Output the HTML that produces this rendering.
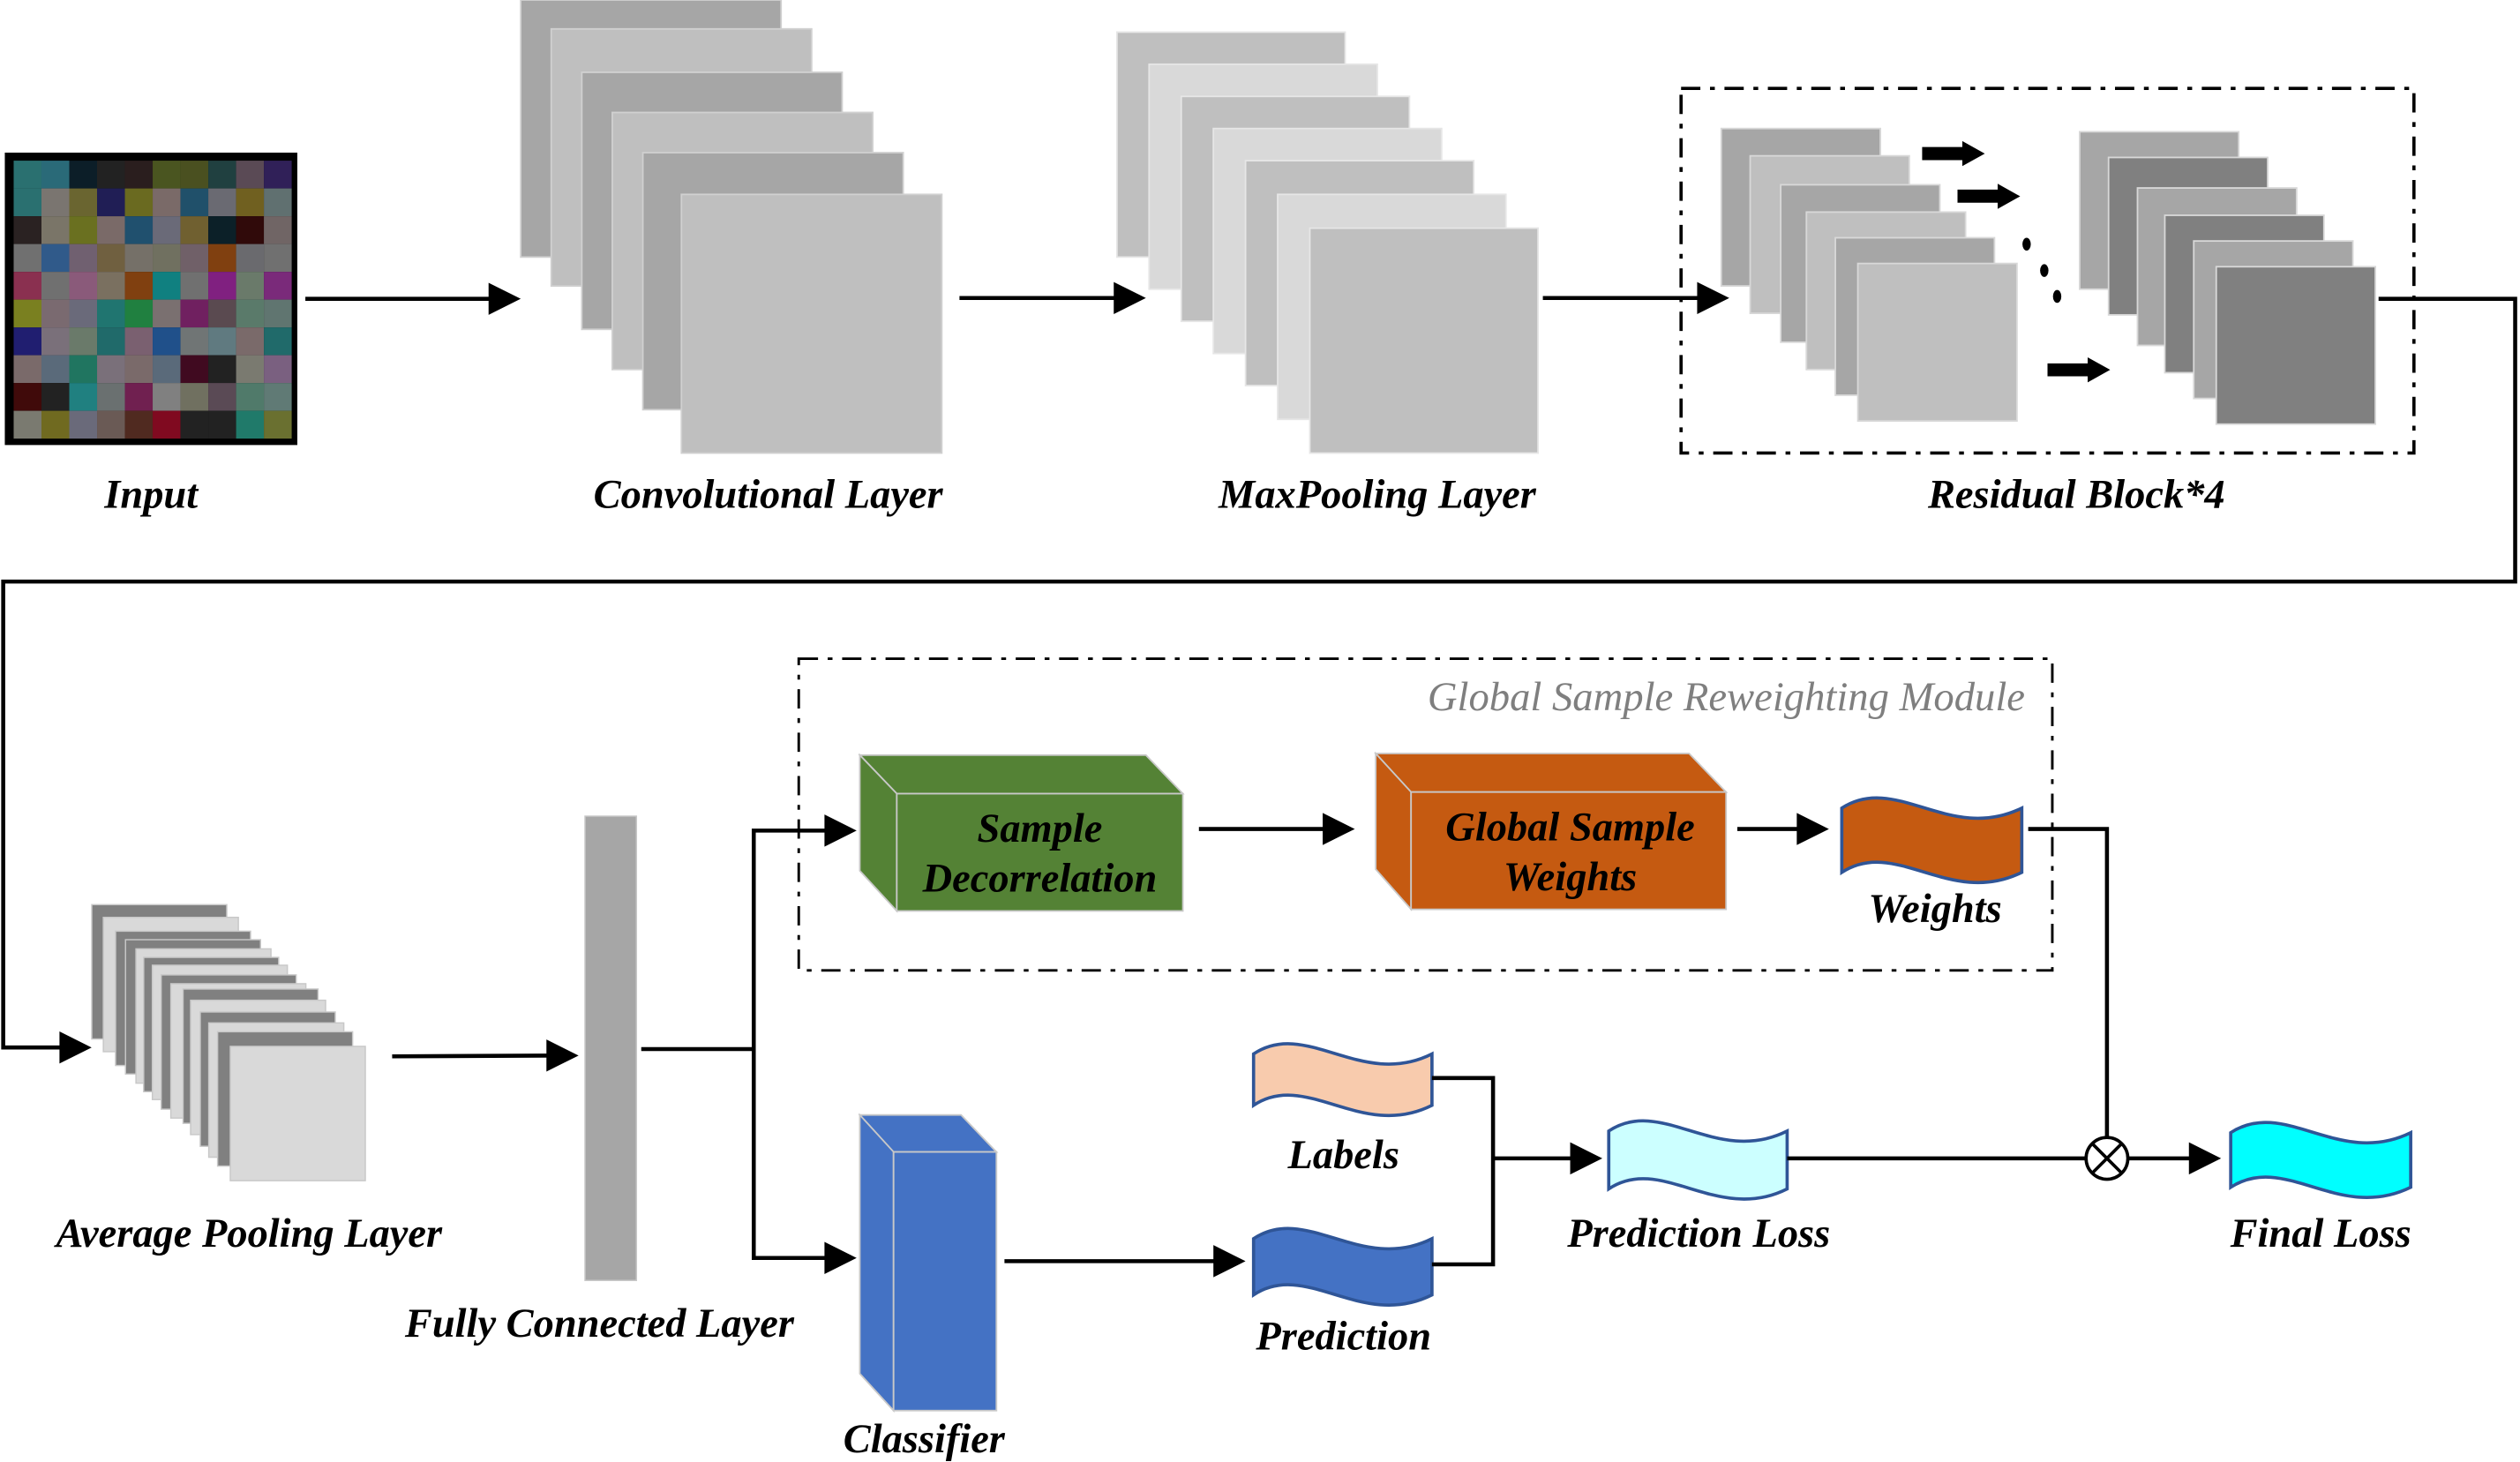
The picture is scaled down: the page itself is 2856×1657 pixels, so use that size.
<!DOCTYPE html>
<html><head><meta charset="utf-8"><style>
html,body{margin:0;padding:0;background:#fff;}
svg{display:block;}
text{font-family:"Liberation Serif",serif;font-weight:bold;font-style:italic;}
</style></head><body>
<svg width="2856" height="1657" viewBox="0 0 1568 910" preserveAspectRatio="none" xmlns="http://www.w3.org/2000/svg">
<rect x="3" y="95" width="182" height="182" fill="#000"/>
<g transform="translate(8.5,100)">
<g>
<rect x="0" y="0" width="17.3" height="17.3" fill="#2a7070"/><rect x="17.3" y="0" width="17.3" height="17.3" fill="#2a6a78"/><rect x="34.6" y="0" width="17.3" height="17.3" fill="#0c1e28"/><rect x="51.9" y="0" width="17.3" height="17.3" fill="#222"/><rect x="69.2" y="0" width="17.3" height="17.3" fill="#2a1e1e"/><rect x="86.5" y="0" width="17.3" height="17.3" fill="#4a5520"/><rect x="103.8" y="0" width="17.3" height="17.3" fill="#4a5020"/><rect x="121.1" y="0" width="17.3" height="17.3" fill="#204040"/><rect x="138.4" y="0" width="17.3" height="17.3" fill="#5a4a55"/><rect x="155.7" y="0" width="17.3" height="17.3" fill="#302058"/>
</g>
<g transform="translate(0,17.3)">
<rect x="0" y="0" width="17.3" height="17.3" fill="#2a7070"/><rect x="17.3" y="0" width="17.3" height="17.3" fill="#7a7570"/><rect x="34.6" y="0" width="17.3" height="17.3" fill="#6a6530"/><rect x="51.9" y="0" width="17.3" height="17.3" fill="#201e55"/><rect x="69.2" y="0" width="17.3" height="17.3" fill="#6a6a20"/><rect x="86.5" y="0" width="17.3" height="17.3" fill="#7a6a68"/><rect x="103.8" y="0" width="17.3" height="17.3" fill="#20506a"/><rect x="121.1" y="0" width="17.3" height="17.3" fill="#6a6a72"/><rect x="138.4" y="0" width="17.3" height="17.3" fill="#706020"/><rect x="155.7" y="0" width="17.3" height="17.3" fill="#607070"/>
</g>
<g transform="translate(0,34.6)">
<rect x="0" y="0" width="17.3" height="17.3" fill="#2a2222"/><rect x="17.3" y="0" width="17.3" height="17.3" fill="#7a7568"/><rect x="34.6" y="0" width="17.3" height="17.3" fill="#6a7020"/><rect x="51.9" y="0" width="17.3" height="17.3" fill="#7a6a68"/><rect x="69.2" y="0" width="17.3" height="17.3" fill="#20506e"/><rect x="86.5" y="0" width="17.3" height="17.3" fill="#6a6a78"/><rect x="103.8" y="0" width="17.3" height="17.3" fill="#706030"/><rect x="121.1" y="0" width="17.3" height="17.3" fill="#0c2028"/><rect x="138.4" y="0" width="17.3" height="17.3" fill="#300a0a"/><rect x="155.7" y="0" width="17.3" height="17.3" fill="#706565"/>
</g>
<g transform="translate(0,51.9)">
<rect x="0" y="0" width="17.3" height="17.3" fill="#707070"/><rect x="17.3" y="0" width="17.3" height="17.3" fill="#305a8a"/><rect x="34.6" y="0" width="17.3" height="17.3" fill="#706070"/><rect x="51.9" y="0" width="17.3" height="17.3" fill="#706040"/><rect x="69.2" y="0" width="17.3" height="17.3" fill="#757068"/><rect x="86.5" y="0" width="17.3" height="17.3" fill="#707060"/><rect x="103.8" y="0" width="17.3" height="17.3" fill="#706068"/><rect x="121.1" y="0" width="17.3" height="17.3" fill="#804010"/><rect x="138.4" y="0" width="17.3" height="17.3" fill="#6a6a6e"/><rect x="155.7" y="0" width="17.3" height="17.3" fill="#707070"/>
</g>
<g transform="translate(0,69.2)">
<rect x="0" y="0" width="17.3" height="17.3" fill="#8a3050"/><rect x="17.3" y="0" width="17.3" height="17.3" fill="#707070"/><rect x="34.6" y="0" width="17.3" height="17.3" fill="#8a5a7a"/><rect x="51.9" y="0" width="17.3" height="17.3" fill="#7a7060"/><rect x="69.2" y="0" width="17.3" height="17.3" fill="#804010"/><rect x="86.5" y="0" width="17.3" height="17.3" fill="#108080"/><rect x="103.8" y="0" width="17.3" height="17.3" fill="#707070"/><rect x="121.1" y="0" width="17.3" height="17.3" fill="#802080"/><rect x="138.4" y="0" width="17.3" height="17.3" fill="#6a7a6a"/><rect x="155.7" y="0" width="17.3" height="17.3" fill="#7a2a7a"/>
</g>
<g transform="translate(0,86.5)">
<rect x="0" y="0" width="17.3" height="17.3" fill="#7a8020"/><rect x="17.3" y="0" width="17.3" height="17.3" fill="#7a6a70"/><rect x="34.6" y="0" width="17.3" height="17.3" fill="#6a6a7a"/><rect x="51.9" y="0" width="17.3" height="17.3" fill="#207570"/><rect x="69.2" y="0" width="17.3" height="17.3" fill="#208040"/><rect x="86.5" y="0" width="17.3" height="17.3" fill="#7a7070"/><rect x="103.8" y="0" width="17.3" height="17.3" fill="#702060"/><rect x="121.1" y="0" width="17.3" height="17.3" fill="#5a4a50"/><rect x="138.4" y="0" width="17.3" height="17.3" fill="#5a7a6a"/><rect x="155.7" y="0" width="17.3" height="17.3" fill="#607570"/>
</g>
<g transform="translate(0,103.8)">
<rect x="0" y="0" width="17.3" height="17.3" fill="#201e70"/><rect x="17.3" y="0" width="17.3" height="17.3" fill="#7a707a"/><rect x="34.6" y="0" width="17.3" height="17.3" fill="#6a7a6a"/><rect x="51.9" y="0" width="17.3" height="17.3" fill="#206a6a"/><rect x="69.2" y="0" width="17.3" height="17.3" fill="#7a6070"/><rect x="86.5" y="0" width="17.3" height="17.3" fill="#20508a"/><rect x="103.8" y="0" width="17.3" height="17.3" fill="#707575"/><rect x="121.1" y="0" width="17.3" height="17.3" fill="#607a80"/><rect x="138.4" y="0" width="17.3" height="17.3" fill="#7a6a6a"/><rect x="155.7" y="0" width="17.3" height="17.3" fill="#206a6a"/>
</g>
<g transform="translate(0,121.1)">
<rect x="0" y="0" width="17.3" height="17.3" fill="#7a6a6a"/><rect x="17.3" y="0" width="17.3" height="17.3" fill="#5a6a7a"/><rect x="34.6" y="0" width="17.3" height="17.3" fill="#207560"/><rect x="51.9" y="0" width="17.3" height="17.3" fill="#7a707a"/><rect x="69.2" y="0" width="17.3" height="17.3" fill="#7a6a6a"/><rect x="86.5" y="0" width="17.3" height="17.3" fill="#5a6a7a"/><rect x="103.8" y="0" width="17.3" height="17.3" fill="#400a20"/><rect x="121.1" y="0" width="17.3" height="17.3" fill="#222"/><rect x="138.4" y="0" width="17.3" height="17.3" fill="#7a7a70"/><rect x="155.7" y="0" width="17.3" height="17.3" fill="#7a6080"/>
</g>
<g transform="translate(0,138.4)">
<rect x="0" y="0" width="17.3" height="17.3" fill="#400a0a"/><rect x="17.3" y="0" width="17.3" height="17.3" fill="#222"/><rect x="34.6" y="0" width="17.3" height="17.3" fill="#208080"/><rect x="51.9" y="0" width="17.3" height="17.3" fill="#6a7070"/><rect x="69.2" y="0" width="17.3" height="17.3" fill="#702050"/><rect x="86.5" y="0" width="17.3" height="17.3" fill="#808080"/><rect x="103.8" y="0" width="17.3" height="17.3" fill="#707060"/><rect x="121.1" y="0" width="17.3" height="17.3" fill="#5a4a55"/><rect x="138.4" y="0" width="17.3" height="17.3" fill="#507a6a"/><rect x="155.7" y="0" width="17.3" height="17.3" fill="#607a75"/>
</g>
<g transform="translate(0,155.7)">
<rect x="0" y="0" width="17.3" height="17.3" fill="#7a7a70"/><rect x="17.3" y="0" width="17.3" height="17.3" fill="#706a20"/><rect x="34.6" y="0" width="17.3" height="17.3" fill="#6a6a7a"/><rect x="51.9" y="0" width="17.3" height="17.3" fill="#6a5a55"/><rect x="69.2" y="0" width="17.3" height="17.3" fill="#502a20"/><rect x="86.5" y="0" width="17.3" height="17.3" fill="#800a20"/><rect x="103.8" y="0" width="17.3" height="17.3" fill="#222"/><rect x="121.1" y="0" width="17.3" height="17.3" fill="#222"/><rect x="138.4" y="0" width="17.3" height="17.3" fill="#207a6a"/><rect x="155.7" y="0" width="17.3" height="17.3" fill="#6a7030"/>
</g>
</g>

<g stroke="#d0d0d0" stroke-width="1">
<rect x="324" y="0" width="162" height="160" fill="#a6a6a6"/>
<rect x="343" y="18" width="162" height="160" fill="#bfbfbf"/>
<rect x="362" y="45" width="162" height="160" fill="#a6a6a6"/>
<rect x="381" y="70" width="162" height="160" fill="#bfbfbf"/>
<rect x="400" y="95" width="162" height="160" fill="#a6a6a6"/>
<rect x="424" y="121" width="162" height="161" fill="#bfbfbf"/>
</g>
<g stroke="#e6e6e6" stroke-width="1">
<rect x="695" y="20" width="142" height="140" fill="#bfbfbf"/>
<rect x="715" y="40" width="142" height="140" fill="#d9d9d9"/>
<rect x="735" y="60" width="142" height="140" fill="#bfbfbf"/>
<rect x="755" y="80" width="142" height="140" fill="#d9d9d9"/>
<rect x="775" y="100" width="142" height="140" fill="#bfbfbf"/>
<rect x="795" y="121" width="142" height="140" fill="#d9d9d9"/>
<rect x="815" y="142" width="142" height="140" fill="#bfbfbf"/>
</g>
<rect x="1046" y="55" width="456" height="227" fill="none" stroke="#000" stroke-width="2" stroke-dasharray="12 6 3 6"/>
<g stroke="#d8d8d8" stroke-width="1">
<rect x="1071" y="80" width="99" height="98" fill="#a6a6a6"/>
<rect x="1089" y="97" width="99" height="98" fill="#bfbfbf"/>
<rect x="1108" y="115" width="99" height="98" fill="#a6a6a6"/>
<rect x="1124" y="132" width="99" height="98" fill="#bfbfbf"/>
<rect x="1142" y="148" width="99" height="98" fill="#a6a6a6"/>
<rect x="1156" y="164" width="99" height="98" fill="#bfbfbf"/>
<rect x="1294" y="82" width="99" height="98" fill="#a6a6a6"/>
<rect x="1312" y="98" width="99" height="98" fill="#808080"/>
<rect x="1330" y="117" width="99" height="98" fill="#a6a6a6"/>
<rect x="1347" y="134" width="99" height="98" fill="#808080"/>
<rect x="1365" y="150" width="99" height="98" fill="#a6a6a6"/>
<rect x="1379" y="166" width="99" height="98" fill="#808080"/>
</g>
<g fill="#000">
<polygon points="1196,91.5 1221,91.5 1221,87.8 1235,95.6 1221,103.4 1221,99.7 1196,99.7"/>
<polygon points="1218,118 1243,118 1243,114.4 1257,122.2 1243,130 1243,126.2 1218,126.2"/>
<polygon points="1274,226.2 1299,226.2 1299,222.4 1313,230.2 1299,238 1299,234.2 1274,234.2"/>
<ellipse cx="1261" cy="152" rx="2.6" ry="4"/>
<ellipse cx="1272" cy="168.4" rx="2.6" ry="4"/>
<ellipse cx="1280" cy="184.5" rx="2.6" ry="4"/>
</g>

<g stroke="#c8c8c8" stroke-width="0.8">
<rect x="57.1" y="563.1" width="84" height="83.6" fill="#808080"/>
<rect x="64.3" y="571" width="84" height="83.6" fill="#d9d9d9"/>
<rect x="71.9" y="579.6" width="84" height="83.6" fill="#808080"/>
<rect x="78.1" y="584.9" width="84" height="83.6" fill="#808080"/>
<rect x="84.6" y="590.6" width="84" height="83.6" fill="#d9d9d9"/>
<rect x="89.4" y="595.9" width="84" height="83.6" fill="#808080"/>
<rect x="94.8" y="600.8" width="84" height="83.6" fill="#d9d9d9"/>
<rect x="100.3" y="606.8" width="84" height="83.6" fill="#808080"/>
<rect x="106.3" y="612.3" width="84" height="83.6" fill="#d9d9d9"/>
<rect x="113.9" y="615.6" width="84" height="83.6" fill="#808080"/>
<rect x="118.6" y="622.6" width="84" height="83.6" fill="#d9d9d9"/>
<rect x="124.6" y="629.9" width="84" height="83.6" fill="#808080"/>
<rect x="129.9" y="636.7" width="84" height="83.6" fill="#d9d9d9"/>
<rect x="135.4" y="642.2" width="84" height="83.6" fill="#808080"/>
<rect x="143.3" y="651.3" width="84" height="83.6" fill="#d9d9d9"/>
</g>
<rect x="364" y="508" width="32" height="289" fill="#a6a6a6" stroke="#c8c8c8" stroke-width="0.8"/>

<rect x="497" y="410" width="780" height="194" fill="none" stroke="#000" stroke-width="1.6" stroke-dasharray="12 6 3 6"/>
<text x="1260" y="442" text-anchor="end" font-size="25.6" fill="#7f7f7f" style="font-weight:normal">Global Sample Reweighting Module</text>

<g stroke="#c8c8c8" stroke-width="1" fill="#548235">
<polygon points="535,470 713,470 736,494 558,494"/>
<polygon points="535,470 558,494 558,567 535,542"/>
<rect x="558" y="494" width="178" height="73"/>
</g>
<text x="647" y="524" text-anchor="middle" font-size="25.5">Sample</text>
<text x="647" y="555" text-anchor="middle" font-size="25.5">Decorrelation</text>
<g stroke="#c8c8c8" stroke-width="1" fill="#c55a11">
<polygon points="856,469 1051,469 1074,493 878,493"/>
<polygon points="856,469 878,493 878,566 856,541"/>
<rect x="878" y="493" width="196" height="73"/>
</g>
<text x="977" y="523" text-anchor="middle" font-size="25.5">Global Sample</text>
<text x="977" y="554" text-anchor="middle" font-size="25.5">Weights</text>

<g stroke="#c8c8c8" stroke-width="1" fill="#4472c4">
<polygon points="535,694 598,694 620,717 556,717"/>
<polygon points="535,694 556,717 556,878 535,855"/>
<rect x="556" y="717" width="64" height="161"/>
</g>

<g stroke="#2f5597" stroke-width="2">
<path d="M1146,503 C1180,481 1213,525 1258,503 L1258,543 C1213,565 1180,521 1146,543 Z" fill="#c55a11"/>
<path d="M780,656 C813,634 847,678 891,656 L891,688 C847,710 813,666 780,688 Z" fill="#f8cbad"/>
<path d="M780,771 C813,749 847,793 891,771 L891,806 C847,828 813,784 780,806 Z" fill="#4472c4"/>
<path d="M1001,704 C1034,682 1068,726 1112,704 L1112,740 C1068,762 1034,718 1001,740 Z" fill="#ccffff"/>
<path d="M1388,705 C1422,683 1455,727 1500,705 L1500,739 C1455,761 1422,717 1388,739 Z" fill="#00ffff"/>
</g>

<g stroke="#000" stroke-width="2.5" fill="none">
<line x1="190" y1="186" x2="312" y2="186"/>
<line x1="597" y1="185.5" x2="701" y2="185.5"/>
<line x1="960" y1="185.5" x2="1064" y2="185.5"/>
<polyline points="1480,186 1565,186 1565,362 2,362 2,652 45,652"/>
<line x1="244" y1="657.5" x2="348" y2="657"/>
<polyline points="399,653 469,653"/>
<polyline points="521,517 469,517 469,783 521,783"/>
<line x1="746" y1="516" x2="831" y2="516"/>
<line x1="1081" y1="516" x2="1126" y2="516"/>
<polyline points="1262,516 1311,516 1311,708"/>
<line x1="625" y1="785" x2="763" y2="785"/>
<polyline points="891,671 929,671 929,787 891,787"/>
<line x1="929" y1="721" x2="985" y2="721"/>
<line x1="1112" y1="721" x2="1298" y2="721"/>
<line x1="1324" y1="721" x2="1370" y2="721"/>
</g>
<circle cx="1311" cy="721" r="13" fill="#fff" stroke="#000" stroke-width="2"/>
<g stroke="#000" stroke-width="2"><line x1="1302" y1="712" x2="1320" y2="730"/><line x1="1320" y1="712" x2="1302" y2="730"/></g>
<g fill="#000">
<polygon points="304,176 324,186 304,196"/>
<polygon points="693,175.5 713,185.5 693,195.5"/>
<polygon points="1056,175.5 1076,185.5 1056,195.5"/>
<polygon points="37,642 57,652 37,662"/>
<polygon points="340,647 360,657 340,667"/>
<polygon points="513,507 533,517 513,527"/>
<polygon points="513,773 533,783 513,793"/>
<polygon points="823,506 843,516 823,526"/>
<polygon points="1118,506 1138,516 1118,526"/>
<polygon points="755,775 775,785 755,795"/>
<polygon points="977,711 997,721 977,731"/>
<polygon points="1362,711 1382,721 1362,731"/>
</g>

<g font-size="25.5" fill="#000" text-anchor="middle">
<text x="94" y="316">Input</text>
<text x="478" y="316">Convolutional Layer</text>
<text x="857" y="316">MaxPooling Layer</text>
<text x="1292" y="316">Residual Block*4</text>
<text x="155" y="776">Average Pooling Layer</text>
<text x="373" y="832">Fully Connected Layer</text>
<text x="575" y="904">Classifier</text>
<text x="1204" y="574">Weights</text>
<text x="836" y="727">Labels</text>
<text x="836" y="840">Prediction</text>
<text x="1057" y="776">Prediction Loss</text>
<text x="1444" y="776">Final Loss</text>
</g>
</svg>
</body></html>
